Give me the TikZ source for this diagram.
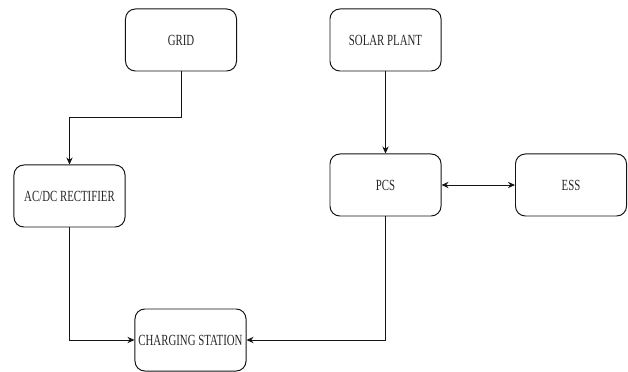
\documentclass[tikz,border=0pt]{standalone}
\usepackage{fontspec}
\usepackage{tikz}
\usetikzlibrary{arrows.meta,positioning}
\newfontfamily\boxfont[FakeStretch=0.7]{Liberation Serif}
\definecolor{cLine}{RGB}{20,20,20}
\definecolor{cText}{RGB}{40,40,40}
\tikzset{
  basebox/.style={rectangle,rounded corners=7pt,draw=cLine,line width=0.7pt,
                  align=center,font=\boxfont\fontsize{11}{13}\selectfont,text=cText,
                  minimum width=2.775cm,minimum height=1.55cm,inner sep=1pt},
  arr/.style={->,>={Stealth[length=5pt,width=4.5pt]},line width=0.7pt,color=cLine},
  dblarr/.style={<->,>={Stealth[length=5pt,width=4.5pt]},line width=0.7pt,color=cLine}
}
\begin{document}
\begin{tikzpicture}[x=0.025cm,y=-0.025cm]
  \useasboundingbox[fill=white] (0,0) rectangle (628,372);
  % sources
  \node[basebox] (grid)  at (181,40)   {GRID};
  \node[basebox] (solar) at (385.5,40) {SOLAR PLANT};
  % converters
  \node[basebox] (rect)  at (69.5,196) {AC/DC RECTIFIER};
  \node[basebox] (pcs)   at (385.5,185) {PCS};
  \node[basebox] (ess)   at (571,185)  {ESS};
  % load
  \node[basebox] (station) at (190.5,340) {CHARGING STATION};
  % connections
  \draw[arr] (grid.south) -- ++(0,46) -| (rect.north);
  \draw[arr] (solar) -- (pcs);
  \draw[dblarr] (pcs) -- (ess);
  \draw[arr] (rect.south) |- (station.west);
  \draw[arr] (pcs.south) |- (station.east);
\end{tikzpicture}
\end{document}
